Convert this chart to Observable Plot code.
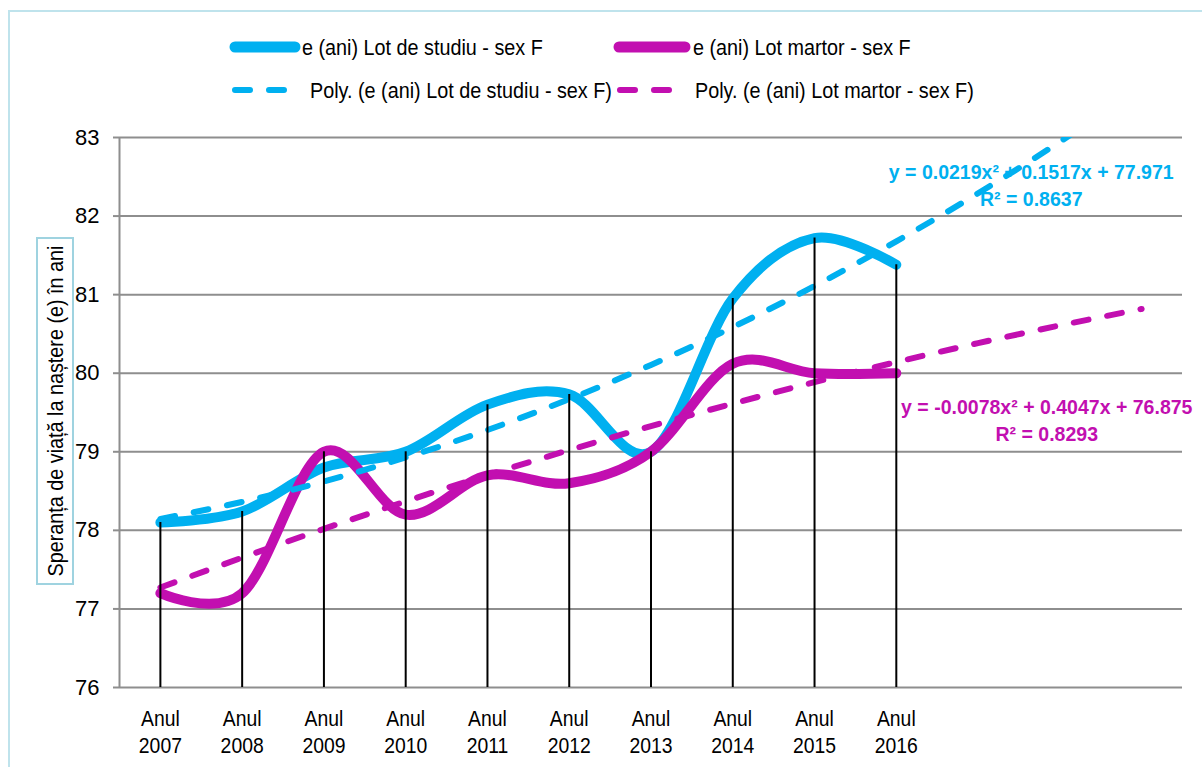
<!DOCTYPE html>
<html><head><meta charset="utf-8">
<script src="https://cdn.jsdelivr.net/npm/d3@7"></script>
<script src="https://cdn.jsdelivr.net/npm/@observablehq/plot@0.6"></script>
<style>
body{margin:0;overflow:hidden;background:#fff;}
#wrap{position:relative;width:1202px;height:767px;overflow:hidden;font-family:"Liberation Sans Narrow","Arial Narrow","Liberation Sans",sans-serif;}
#border{position:absolute;left:8px;top:10px;width:1220px;height:800px;border:2px solid #bfe3ec;box-sizing:border-box;}
#chart{position:absolute;left:0;top:0;}
#overlay{position:absolute;left:0;top:0;pointer-events:none;}
</style></head>
<body>
<div id="wrap"><div id="border"></div><div id="chart"></div>
<svg id="overlay" width="1202" height="767"></svg></div>
<script>
// ---- data ----
const years = [2007, 2008, 2009, 2010, 2011, 2012, 2013, 2014, 2015, 2016];
const idx = [1, 2, 3, 4, 5, 6, 7, 8, 9, 10];
const studiu = [78.1, 78.24, 78.8, 79.0, 79.6, 79.73, 79.0, 80.95, 81.72, 81.38];
const martor = [77.2, 77.2, 79.0, 78.2, 78.7, 78.6, 79.0, 80.12, 80.0, 80.0];
// trendline values (from the chart's own equations) at x = 1..13
const trendIdx = [1, 2, 3, 4, 5, 6, 7, 8, 9, 10, 11, 12, 13];
const trendStudiu = [78.145, 78.362, 78.623, 78.928, 79.277, 79.670, 80.106, 80.586, 81.110, 81.678, 82.290, 82.945, 83.644];
const trendMartor = [77.272, 77.653, 78.019, 78.369, 78.704, 79.022, 79.326, 79.613, 79.886, 80.142, 80.383, 80.608, 80.818];
const yTicks = [76, 77, 78, 79, 80, 81, 82, 83];
const seriesNames = ["e (ani) Lot de studiu - sex F", "e (ani) Lot martor - sex F"];
const trendNames = ["Poly. (e (ani) Lot de studiu - sex F)", "Poly. (e (ani) Lot martor - sex F)"];
const eqStudiu = "y = 0.0219x² + 0.1517x + 77.971\nR² = 0.8637";
const eqMartor = "y = -0.0078x² + 0.4047x + 76.875\nR² = 0.8293";
const yTitle = "Speranța de viață la naștere (e) în ani";

const BLUE = "#00b0f0", MAG = "#c20fb0", GRID = "#8e8e8e";
const FONT = '"Liberation Sans Narrow","Arial Narrow","Liberation Sans",sans-serif';

const sData = idx.map((x, i) => ({x, y: studiu[i]}));
const mData = idx.map((x, i) => ({x, y: martor[i]}));
const tsData = trendIdx.map((x, i) => ({x, y: trendStudiu[i]}));
const tmData = trendIdx.map((x, i) => ({x, y: trendMartor[i]}));
const dropData = idx.map((x, i) => ({x, y: Math.max(studiu[i], martor[i])}));

const chart = Plot.plot({
  width: 1202, height: 767,
  marginLeft: 119, marginRight: 20, marginTop: 137, marginBottom: 80,
  style: {fontFamily: FONT, fontSize: "22px", background: "transparent", color: "black"},
  x: {type: "linear", domain: [0.5, 13.5], axis: null},
  y: {type: "linear", domain: [76, 83], axis: null},
  marks: [
    Plot.ruleY(yTicks, {x1: 0.5, x2: 13.5, stroke: GRID, strokeWidth: 2}),
    Plot.ruleX([0.5], {y1: 76, y2: 83, stroke: GRID, strokeWidth: 2}),
    Plot.axisY(yTicks, {label: null, tickSize: 6, tickPadding: 14, stroke: GRID, strokeWidth: 2, fill: "black", tickFormat: d => String(d)}),
    Plot.axisX(idx, {label: null, tickSize: 0, tickPadding: 20, fill: "black", lineHeight: 1.2, tickFormat: i => "Anul\n" + years[i - 1], className: "xlab"}),
    Plot.line(sData, {x: "x", y: "y", curve: "cardinal", stroke: BLUE, strokeWidth: 10, strokeLinecap: "round", strokeLinejoin: "round"}),
    Plot.line(mData, {x: "x", y: "y", curve: "cardinal", stroke: MAG, strokeWidth: 10, strokeLinecap: "round", strokeLinejoin: "round"}),
    Plot.line(tsData, {x: "x", y: "y", curve: "natural", stroke: BLUE, strokeWidth: 6, strokeLinecap: "round", strokeDasharray: "15,19", clip: true}),
    Plot.line(tmData, {x: "x", y: "y", curve: "natural", stroke: MAG, strokeWidth: 6, strokeLinecap: "round", strokeDasharray: "15,19", clip: true}),
    Plot.ruleX(dropData, {x: "x", y1: 76, y2: "y", stroke: "black", strokeWidth: 2}),
    Plot.text([eqStudiu], {x: 11.65, y: 82.41, text: d => d, fill: BLUE, fontWeight: "bold", fontSize: 21, lineHeight: 1.3, textAnchor: "middle", className: "eqlab"}),
    Plot.text([eqMartor], {x: 11.84, y: 79.42, text: d => d, fill: MAG, fontWeight: "bold", fontSize: 21, lineHeight: 1.3, textAnchor: "middle", className: "eqlab"})
  ]
});
document.getElementById("chart").appendChild(chart);

// condense text horizontally (reference uses a narrow sans font)
function condense(el, k) {
  const t = el.getAttribute("transform") || "";
  el.setAttribute("transform", `${t} scale(${k},1)`);
}
d3.select(chart).selectAll("text").each(function () {
  const inEq = this.closest(".eqlab"), inX = this.closest(".xlab");
  const tx = this.textContent || "";
  if (inEq || tx.startsWith("y =")) condense(this, 0.93);
  else if (inX || tx.startsWith("Anul")) condense(this, 0.88);
});

// ---- legend & y title overlay ----
const ov = d3.select("#overlay").style("font-family", FONT);
const leg = [
  {name: seriesNames[0], color: BLUE, dash: null, x0: 230, x1: 300, tx: 302, y: 47},
  {name: seriesNames[1], color: MAG, dash: null, x0: 614, x1: 690, tx: 693, y: 47},
  {name: trendNames[0], color: BLUE, dash: "15,19", x0: 235, x1: 290, tx: 310, y: 90},
  {name: trendNames[1], color: MAG, dash: "15,19", x0: 620, x1: 675, tx: 695, y: 90}
];
leg.forEach(l => {
  ov.append("line").attr("x1", l.x0 + (l.dash ? 0 : 5)).attr("x2", l.x1 - (l.dash ? 0 : 5)).attr("y1", l.y).attr("y2", l.y)
    .attr("stroke", l.color).attr("stroke-width", l.dash ? 6 : 11).attr("stroke-linecap", "round")
    .attr("stroke-dasharray", l.dash);
  ov.append("text").attr("transform", `translate(${l.tx},${l.y}) scale(0.9,1)`).attr("dy", "0.35em")
    .attr("font-size", 22).attr("fill", "black").text(l.name);
});
ov.append("rect").attr("x", 37).attr("y", 238).attr("width", 36).attr("height", 346)
  .attr("fill", "white").attr("stroke", "#9fd3e0").attr("stroke-width", 2);
ov.append("text").attr("transform", "translate(55,411) rotate(-90) scale(0.9,1)").attr("text-anchor", "middle").attr("dy", "0.35em")
  .attr("font-size", 22).attr("fill", "black").text(yTitle);
</script>
</body></html>
